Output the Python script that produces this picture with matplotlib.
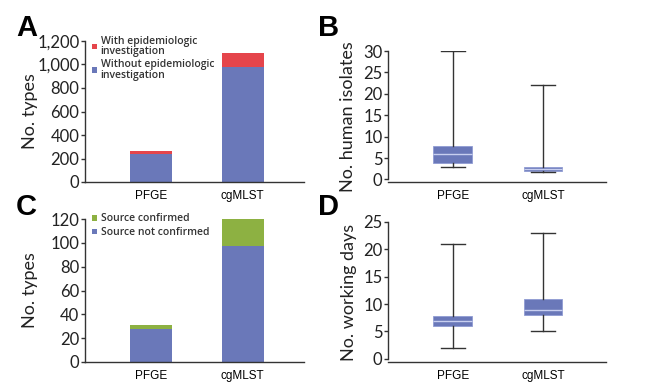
import matplotlib.pyplot as plt
from matplotlib.ticker import FuncFormatter

methods = ['PFGE', 'cgMLST']

# A: number of types
without_epi = [237, 981]
with_epi = [28, 119]

# C: number of types by source
not_confirmed = [28, 97]
confirmed = [3, 23]

# B: human isolates per type (whislo, q1, med, q3, whishi)
isolates_stats = [(3, 3.9, 5.9, 7.8, 30), (1.8, 2.0, 2.4, 2.85, 22)]
# D: working days
days_stats = [(2, 6.05, 6.9, 7.8, 21), (5, 8.0, 9.0, 10.9, 23)]

blue = '#6a78b9'
red = '#e5454b'
green = '#8db142'
dark = '#333333'

tick_font = 'Lato'
cat_font = 'Liberation Sans'

fig = plt.figure(figsize=(6.55, 3.86), dpi=100)
W, H = 655, 386


def make_ax(x0, x1, ytop, ybot):
    return fig.add_axes([x0 / W, 1 - ybot / H, (x1 - x0) / W, (ybot - ytop) / H])


def style(ax, ylabel, letter, lx, ly, label_x):
    for s in ['top', 'right']:
        ax.spines[s].set_visible(False)
    for s in ['left', 'bottom']:
        ax.spines[s].set_color(dark)
        ax.spines[s].set_linewidth(1.0)
    ax.tick_params(axis='y', direction='out', length=3, width=1, color=dark,
                   labelsize=12, labelcolor='#222222', pad=1)
    ax.tick_params(axis='x', length=0, labelsize=8.5, pad=6)
    for t in ax.get_yticklabels():
        t.set_fontfamily(tick_font)
    for t in ax.get_xticklabels():
        t.set_fontfamily(cat_font)
    ax.set_ylabel(ylabel, fontsize=13, family=tick_font, color='#222222')
    # label's right edge given in figure pixels
    bbox = ax.get_position()
    ax.yaxis.set_label_coords((label_x / W - bbox.x0) / bbox.width, 0.5)
    fig.text(lx / W, 1 - ly / H, letter, fontsize=21, fontweight='bold',
             family='Liberation Sans', va='center', ha='left')


x = [0, 1]


def stacked(ax, bottom_vals, top_vals, top_color, labels, ymax, step, fmt=None):
    ax.bar(x, bottom_vals, width=0.46, color=blue, label=labels[1])
    ax.bar(x, top_vals, width=0.46, bottom=bottom_vals, color=top_color, label=labels[0])
    ax.set_xlim(-0.72, 1.67)
    ax.set_ylim(0, ymax)
    ax.set_yticks(range(0, ymax + 1, step))
    if fmt:
        ax.yaxis.set_major_formatter(FuncFormatter(fmt))
    ax.set_xticks(x)
    ax.set_xticklabels(methods)
    h, l = ax.get_legend_handles_labels()
    leg = ax.legend(h[::-1], l[::-1], loc='upper left', bbox_to_anchor=(0.0, 1.09),
                    frameon=False, handlelength=0.45, handleheight=0.45,
                    handletextpad=0.35, labelspacing=0.25, borderaxespad=0.3,
                    prop={'family': 'Open Sans', 'size': 7.5, 'weight': 'semibold'})
    for t in leg.get_texts():
        t.set_color('#333333')
        t.set_linespacing(0.9)


def boxes(ax, stats, ymax):
    data = []
    for lo, q1, med, q3, hi in stats:
        data.append({'whislo': lo, 'q1': q1, 'med': med, 'q3': q3, 'whishi': hi, 'fliers': []})
    ax.bxp(data, positions=x, widths=0.43, patch_artist=True, showfliers=False,
           boxprops=dict(facecolor=blue, edgecolor='#8f9bd3', linewidth=0.6),
           medianprops=dict(color='#c8cff0', linewidth=1.0),
           whiskerprops=dict(color=dark, linewidth=1.0),
           capprops=dict(color=dark, linewidth=1.0),
           capwidths=0.26)
    ax.set_xlim(-0.72, 1.70)
    ax.set_ylim(-0.6, ymax)
    ax.spines['left'].set_bounds(0, ymax)
    ax.set_yticks(range(0, ymax + 1, 5))
    ax.set_xticks(x)
    ax.set_xticklabels(methods)


axA = make_ax(85, 304, 41, 182)
stacked(axA, without_epi, with_epi, red,
        ['With epidemiologic\ninvestigation', 'Without epidemiologic\ninvestigation'],
        1200, 200, lambda v, p: f'{int(v):,}')
style(axA, 'No. types', 'A', 16, 28, 38)

axB = make_ax(388, 606, 51, 182)
boxes(axB, isolates_stats, 30)
style(axB, 'No. human isolates', 'B', 318, 28, 356)

axC = make_ax(85, 304, 219, 362)
stacked(axC, not_confirmed, confirmed, green,
        ['Source confirmed', 'Source not confirmed'], 120, 20)
style(axC, 'No. types', 'C', 16, 207, 38)

axD = make_ax(388, 606, 222, 362)
boxes(axD, days_stats, 25)
style(axD, 'No. working days', 'D', 318, 207, 357)

fig.savefig('out.png', dpi=100)
